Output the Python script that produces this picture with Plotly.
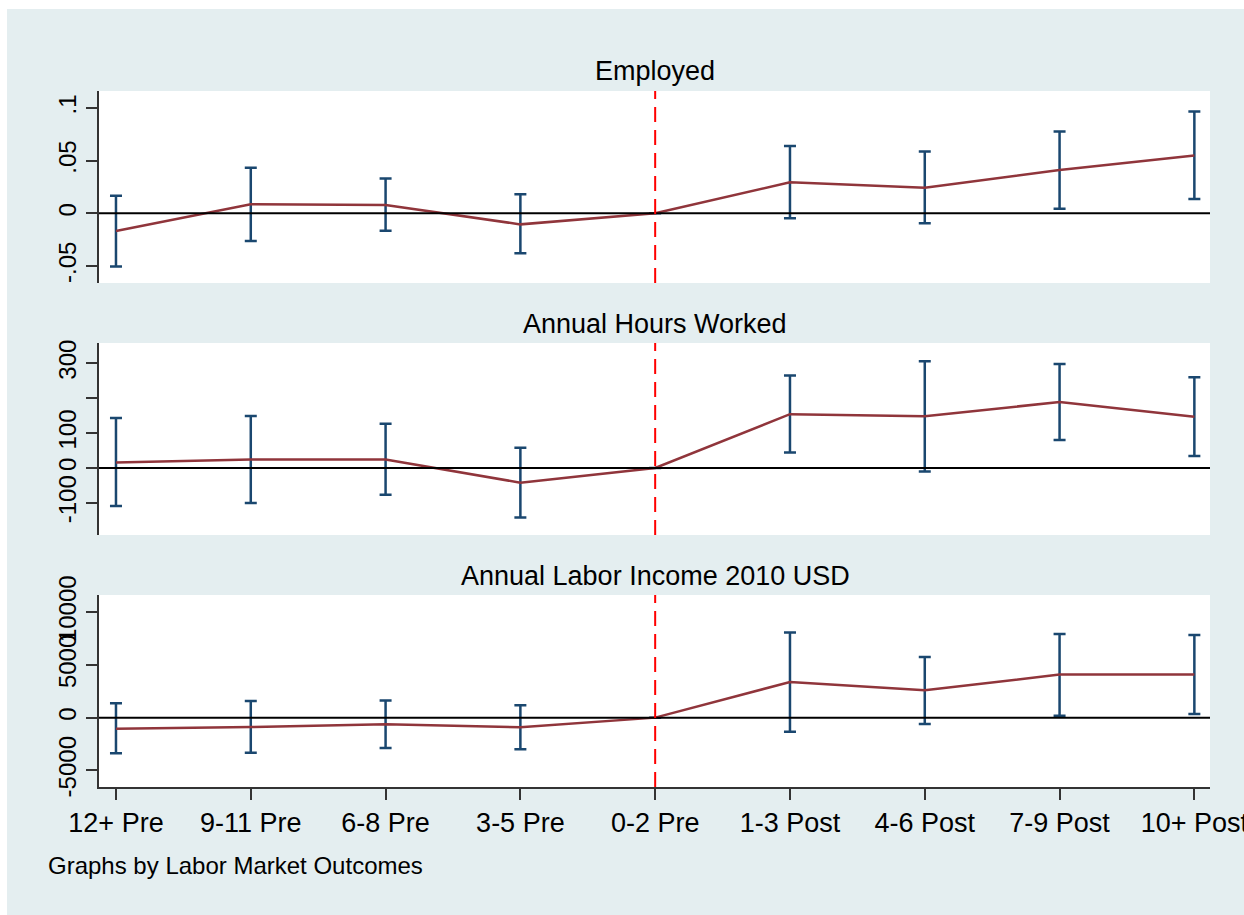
import plotly.graph_objects as go

W, H = 1244, 915

categories = ["12+ Pre", "9-11 Pre", "6-8 Pre", "3-5 Pre", "0-2 Pre",
              "1-3 Post", "4-6 Post", "7-9 Post", "10+ Post"]

panel_titles = ["Employed", "Annual Hours Worked", "Annual Labor Income 2010 USD"]

# Employed
emp_est = [-0.0168, 0.0086, 0.0079, -0.0105, 0.0, 0.0295, 0.0244, 0.0412, 0.0549]
emp_hi = [0.0168, 0.0432, 0.0330, 0.0180, 0.0, 0.0640, 0.0587, 0.0777, 0.0968]
emp_lo = [-0.0505, -0.0263, -0.0165, -0.0380, 0.0, -0.0048, -0.0095, 0.0044, 0.0136]

# Annual hours worked
hrs_est = [16, 24, 24, -42, 0, 154, 148, 189, 147]
hrs_hi = [143, 149, 127, 58, 0, 265, 306, 298, 260]
hrs_lo = [-109, -100, -77, -142, 0, 44, -10, 80, 34]

# Annual labor income 2010 USD
inc_est = [-1046, -894, -637, -922, 0, 3384, 2595, 4087, 4087]
inc_hi = [1359, 1578, 1616, 1170, 0, 8080, 5760, 7947, 7852]
inc_lo = [-3394, -3327, -2890, -3010, 0, -1331, -608, 190, 342]

ytick_vals = [[-0.05, 0, 0.05, 0.1], [-100, 0, 100, 200, 300], [-5000, 0, 5000, 10000]]
ytick_text = [["-.05", "0", ".05", ".1"], ["-100", "0", "100", "", "300"],
              ["-5000", "0", "5000", "10000"]]
grid_vals = [[-0.05, 0.05, 0.1], [-100, 100, 200, 300], [-5000, 5000, 10000]]
yranges = [[-0.0662, 0.1162], [-192, 358], [-6587, 11645]]

ests = [emp_est, hrs_est, inc_est]
his = [emp_hi, hrs_hi, inc_hi]
los = [emp_lo, hrs_lo, inc_lo]

BG = "#E4EEF0"
STRIP = "#D4E1E7"
GRID = "#E4EEF0"
NAVY = "#1A476F"
MAROON = "#90353B"
AXC = "#333333"
FONT = "Liberation Sans, Arial, Helvetica, sans-serif"

# pixel geometry (top, bottom) of plot areas and strips
plot_px = [(91, 283), (343, 535), (595, 787)]
strip_px = [(52, 91), (305, 343), (557, 595)]
x_px = (99, 1210)

def py(v):
    return (H - v) / H

def px(v):
    return v / W

fig = go.Figure()
xs = list(range(len(categories)))

for i in range(3):
    ax = "" if i == 0 else str(i + 1)
    xa, ya = "x" + ax, "y" + ax
    est, hi, lo = ests[i], his[i], los[i]
    plus = [h - e for h, e in zip(hi, est)]
    minus = [e - l for e, l in zip(est, lo)]
    fig.add_trace(go.Scatter(
        x=xs, y=est, mode="markers", xaxis=xa, yaxis=ya,
        marker=dict(size=1, opacity=0),
        error_y=dict(type="data", array=plus, arrayminus=minus, symmetric=False,
                     color=NAVY, thickness=2.5, width=6),
        showlegend=False, hoverinfo="skip"))
    fig.add_trace(go.Scatter(
        x=xs, y=est, mode="lines", xaxis=xa, yaxis=ya,
        line=dict(color=MAROON, width=2.5),
        showlegend=False))

    # gridlines
    for g in grid_vals[i]:
        fig.add_shape(type="line", xref=xa + " domain", yref=ya,
                      x0=0, x1=1, y0=g, y1=g,
                      line=dict(color=GRID, width=2), layer="below")
    # zero line
    fig.add_shape(type="line", xref=xa + " domain", yref=ya,
                  x0=0, x1=1, y0=0, y1=0, line=dict(color="black", width=2))
    # red dashed vertical line at 0-2 Pre
    fig.add_shape(type="line", xref=xa, yref=ya + " domain",
                  x0=4, x1=4, y0=0, y1=1,
                  line=dict(color="#FF0000", width=2, dash="15px,8px"))

    top, bot = plot_px[i]
    yd = [py(bot), py(top)]
    fig.layout["yaxis" + ax] = dict(
        domain=yd, anchor=xa, range=yranges[i], automargin=False,
        tickvals=ytick_vals[i], ticktext=ytick_text[i], tickangle=-90,
        ticks="outside", ticklen=11, tickwidth=1.5, tickcolor=AXC,
        showline=True, linecolor=AXC, linewidth=2,
        showgrid=False, zeroline=False,
        tickfont=dict(family=FONT, size=24, color="black"))
    last = (i == 2)
    fig.layout["xaxis" + ax] = dict(
        domain=[px(x_px[0]), px(x_px[1])], anchor=ya, range=[-0.126, 8.116],
        automargin=False, ticklabeloverflow="allow",
        tickvals=xs, ticktext=categories if last else [""] * len(xs),
        showticklabels=last,
        ticks="outside" if last else "", ticklen=11, tickwidth=1.5, tickcolor=AXC,
        showline=last, linecolor=AXC, linewidth=2,
        showgrid=False, zeroline=False,
        tickfont=dict(family=FONT, size=27, color="black"))

    # strip
    s0, s1 = strip_px[i]
    fig.add_shape(type="rect", xref="paper", yref="paper",
                  x0=px(x_px[0]), x1=px(x_px[1]), y0=py(s1), y1=py(s0),
                  fillcolor=STRIP, line=dict(width=0), layer="below")
    fig.add_annotation(xref="paper", yref="paper", x=px(655), y=py((s0 + s1) / 2),
                       text=panel_titles[i], showarrow=False,
                       font=dict(family=FONT, size=27, color="black"),
                       xanchor="center", yanchor="middle")

# outer graph region background
fig.add_shape(type="rect", xref="paper", yref="paper",
              x0=px(7), x1=1, y0=0, y1=py(9),
              fillcolor=BG, line=dict(width=0), layer="below")
# white plot areas
for (top, bot) in plot_px:
    fig.add_shape(type="rect", xref="paper", yref="paper",
                  x0=px(x_px[0]), x1=px(x_px[1]), y0=py(bot), y1=py(top),
                  fillcolor="white", line=dict(width=0), layer="below")

fig.add_annotation(xref="paper", yref="paper", x=px(46), y=py(865),
                   text="Graphs by Labor Market Outcomes", showarrow=False,
                   font=dict(family=FONT, size=24, color="black"),
                   xanchor="left", yanchor="middle")

fig.update_layout(
    width=W, height=H, margin=dict(l=0, r=0, t=0, b=0, autoexpand=False),
    paper_bgcolor="white", plot_bgcolor="rgba(0,0,0,0)",
    showlegend=False)

fig.write_html("out.html", config={"displayModeBar": False},
               post_script="document.body.style.margin='0';document.body.style.overflow='hidden';")
